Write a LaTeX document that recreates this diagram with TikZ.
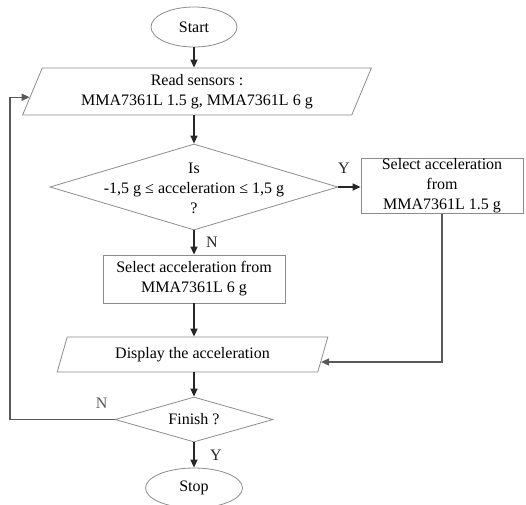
\documentclass[tikz,border=0pt]{standalone}
\usepackage{fontspec}
\setmainfont{Liberation Serif}
\usetikzlibrary{arrows.meta,shapes.geometric,calc}

\begin{document}
\begin{tikzpicture}
[x=1pt,y=1pt,font=\fontsize{16}{20}\selectfont,
 term/.style={ellipse,draw=black!45,thick,inner sep=0pt},
 io/.style={trapezium,trapezium left angle=67,trapezium right angle=113,trapezium stretches=true,draw=black!45,thick,align=center,inner sep=0pt},
 proc/.style={rectangle,draw=black!45,thick,align=center,inner sep=0pt},
 dec/.style={diamond,draw=black!45,thick,inner sep=0pt},
 flow/.style={-{Triangle[length=8pt,width=7pt]},line width=1.4pt,black!85},
 back/.style={-{Triangle[length=8pt,width=7pt]},line width=1.4pt,black!65}]
\useasboundingbox (0,0) rectangle (526,-504);

\node[term,minimum width=86pt,minimum height=40pt] (start) at (194,-27) {Start};
\node[io,minimum width=349pt,minimum height=47pt] (rd) at (197,-91.5) {Read sensors :\\MMA7361L 1.5 g, MMA7361L 6 g};
\node[dec,minimum width=288pt,minimum height=86pt] (chk) at (194,-187) {};
\node[align=center] (chktxt) at (194,-188) {Is\\-1,5 g ≤ acceleration ≤ 1,5 g\\?};
\node[proc,minimum width=162pt,minimum height=54pt] (hi) at (442,-186) {Select acceleration\\from\\MMA7361L 1.5 g};
\node[proc,minimum width=182pt,minimum height=48pt] (lo) at (194,-279) {Select acceleration from\\MMA7361L 6 g};
\node[io,minimum width=271pt,minimum height=35pt] (dp) at (192.5,-354.5) {Display the acceleration};
\node[dec,minimum width=158pt,minimum height=45pt] (fin) at (194,-419.5) {};
\node (fintxt) at (194,-419.5) {Finish ?};
\node[term,minimum width=97pt,minimum height=40pt] (stop) at (194,-488) {Stop};

\coordinate (rdin) at ($(rd.bottom left corner)!0.38!(rd.top left corner)$);
\coordinate (dpin) at ($(dp.bottom right corner)!0.29!(dp.top right corner)$);
\coordinate (lp) at (10,0);

\draw [flow] (start) -- (rd.north -| start);
\draw [flow] (rd.south -| chk) -- (chk);
\draw [flow] (chk.east) -- (hi.west |- chk.east) node[pos=0.25,yshift=19pt] {Y};
\draw [flow] (chk.south) -- (lo.north) node[midway,xshift=18pt] {N};
\draw [flow] (lo.south) -- (dp.north -| lo);
\draw [back] (hi.south) |- (dpin);
\draw [flow] (dp.south -| fin) -- (fin.north);
\draw [back] (fin.west) node[xshift=-13pt,yshift=16pt] {N} -- (fin.west -| lp) |- (rdin);
\draw [flow] (fin.south) -- (stop.north) node[midway,xshift=22pt] {Y};
\end{tikzpicture}
\end{document}
